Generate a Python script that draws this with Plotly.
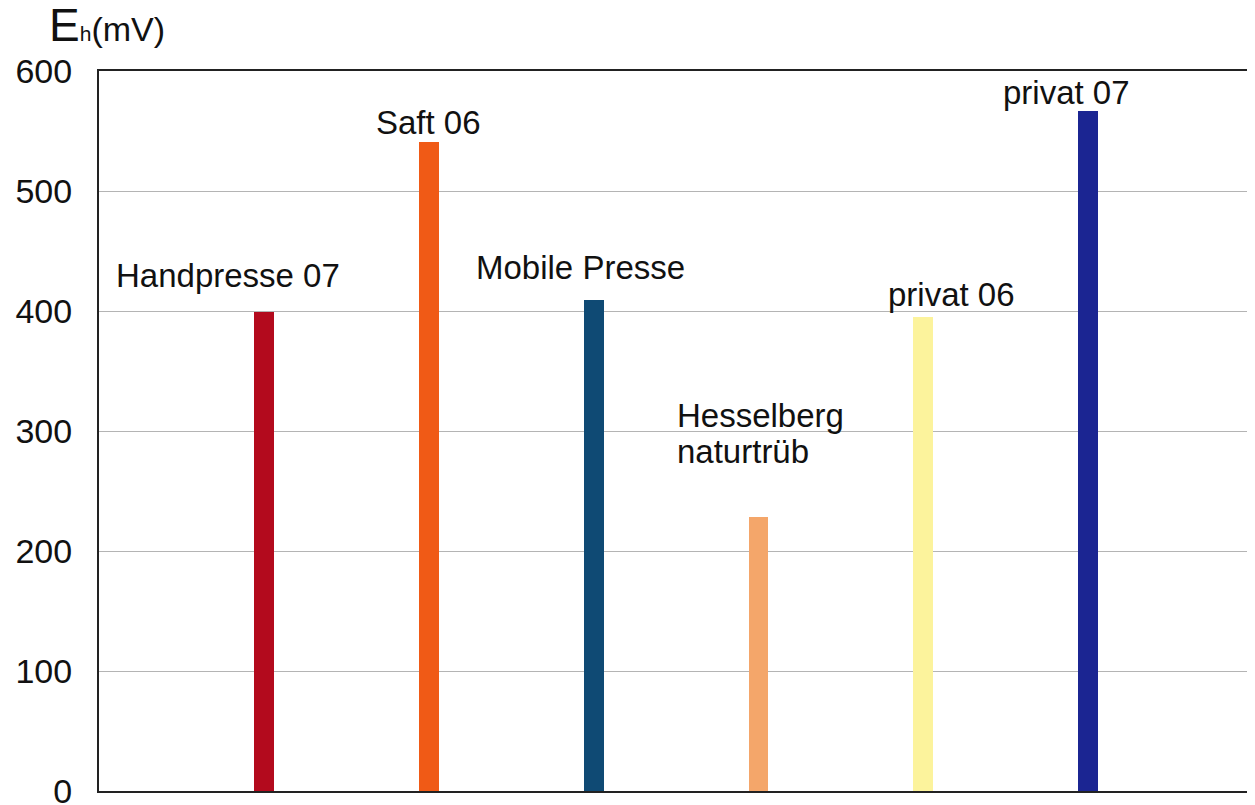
import plotly.graph_objects as go

# ---- data ----
categories = ["Handpresse 07", "Saft 06", "Mobile Presse", "Hesselberg<br>naturtrüb", "privat 06", "privat 07"]
eh_values = [399, 541, 409, 228, 395, 567]
bar_colors = ["#b30a1d", "#f05a16", "#0f4a74", "#f4a66a", "#fcf39c", "#1b2592"]
y_ticks = [0, 100, 200, 300, 400, 500, 600]

# ---- label placement (style) ----
label_y = [[430], [557], [436], [313, 283], [414], [582]]
label_xshift = [-36, 0, -13, -83, 28, -22]
label_anchor = ["center", "center", "center", "left", "center", "center"]

FONT = "Arial, 'Liberation Sans', sans-serif"

fig = go.Figure()
fig.add_trace(go.Bar(
    x=categories, y=eh_values,
    marker=dict(color=bar_colors, line=dict(width=0)),
    width=0.12, showlegend=False, hoverinfo="x+y",
))

for i, cat in enumerate(categories):
    lines = cat.split("<br>")
    for line, ly in zip(lines, label_y[i]):
        fig.add_annotation(x=i, y=ly, xref="x", yref="y", text=line,
                           showarrow=False, xanchor=label_anchor[i], yanchor="middle",
                           xshift=label_xshift[i],
                           font=dict(family=FONT, size=33, color="#111"))

fig.add_annotation(
    x=0, y=1, xref="paper", yref="paper", xanchor="left", yanchor="bottom",
    xshift=-52, yshift=18, showarrow=False,
    text="<span style='font-size:46px'>E</span><span style='font-size:21px'>h</span>(mV)",
    font=dict(family=FONT, size=34, color="#111"),
)

fig.update_layout(
    width=1255, height=805,
    margin=dict(l=91, r=0, t=63, b=22),
    paper_bgcolor="white", plot_bgcolor="white",
    bargap=0,
    xaxis=dict(
        range=[-1, 6.06], showticklabels=False, ticks="",
        showgrid=False, zeroline=False,
        showline=True, linecolor="#222", linewidth=2, mirror=True,
    ),
    yaxis=dict(
        range=[0, 600], tickvals=y_ticks, ticks="outside", ticklen=18,
        tickcolor="rgba(0,0,0,0)",
        tickfont=dict(family=FONT, size=34, color="#111"),
        showgrid=True, gridcolor="#b4b4b4", gridwidth=1,
        zeroline=False, showline=True, linecolor="#222", linewidth=2,
    ),
)

fig.write_html("out.html")
